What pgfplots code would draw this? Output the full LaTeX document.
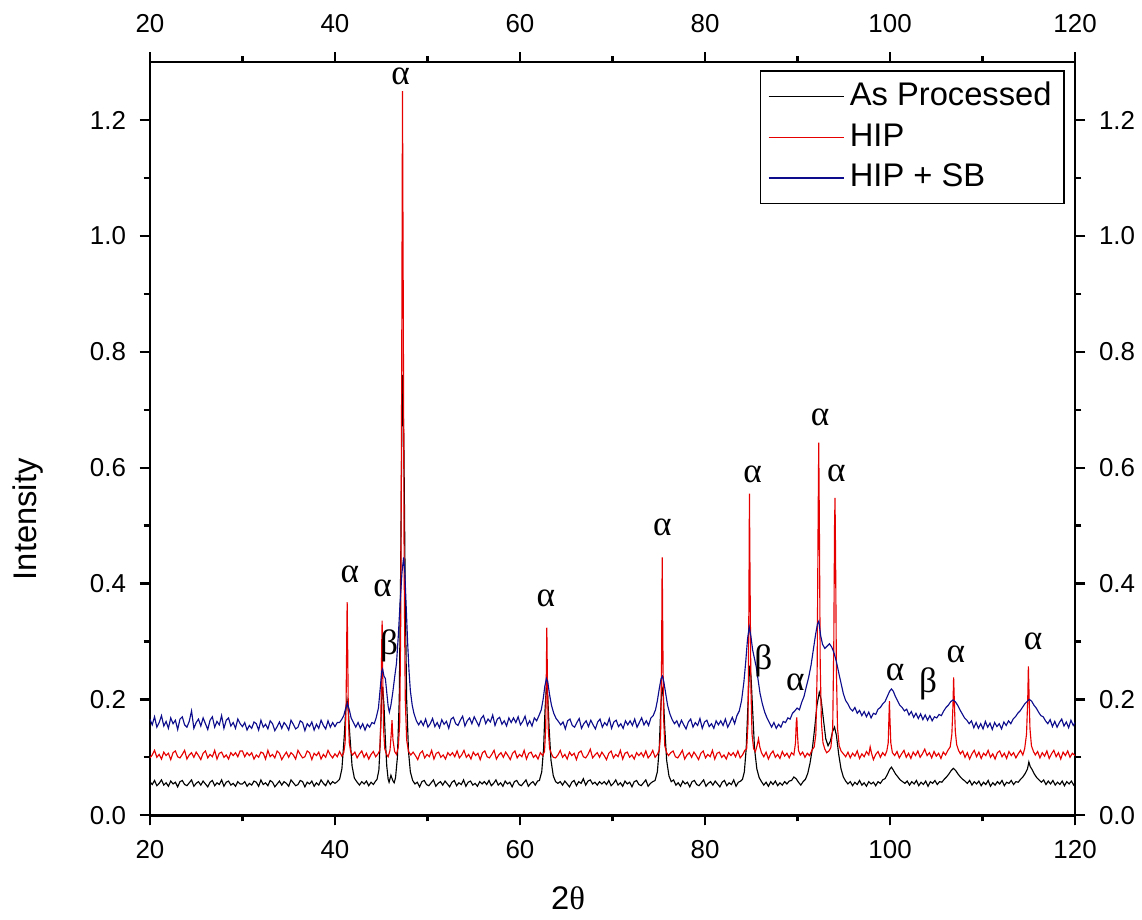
\documentclass[border=0pt]{standalone}
\usepackage{pgfplots}
\pgfplotsset{compat=1.18}
\usepackage{fontspec}
\setmainfont{Liberation Sans}
\newfontfamily\grk{Liberation Serif}
\definecolor{hipred}{RGB}{230,0,0}
\definecolor{sbblue}{RGB}{12,12,140}

\begin{document}
\begin{tikzpicture}
\pgfplotsset{
  frame/.style={
    scale only axis, width=367.8pt, height=299.4pt,
    xmin=20, xmax=120, ymin=0, ymax=1.3,
    xtick={20,40,60,80,100,120},
    ytick={0,0.2,0.4,0.6,0.8,1.0,1.2},
    minor x tick num=1, minor y tick num=1,
    tick align=outside, major tick length=4pt, minor tick length=2.4pt,
    axis line style={line width=1pt},
    every tick/.style={line width=0.9pt, black},
    tick label style={font=\fontsize{10.3}{12}\selectfont},
    /pgf/number format/assume math mode=true,
    yticklabel style={/pgf/number format/fixed, /pgf/number format/fixed zerofill, /pgf/number format/precision=1},
  }
}
% top and right tick labels
\begin{axis}[frame, xticklabel pos=right, yticklabel pos=right,
  xticklabel style={yshift=4pt}, yticklabel style={xshift=2pt}]
\end{axis}

\begin{axis}[frame,
  xticklabel style={yshift=-2.5pt}, yticklabel style={xshift=-2pt},
  xlabel={2{\grk θ}}, ylabel={Intensity},
  every axis x label/.style={at={(axis description cs:0.452,-0.110)}, anchor=center, font=\fontsize{13}{15}\selectfont},
  every axis y label/.style={at={(axis description cs:-0.1319,0.393)}, rotate=90, anchor=center, font=\fontsize{13}{15}\selectfont},
  legend style={at={(rel axis cs:0.989,0.989)}, anchor=north east, draw=black, line width=0.6pt,
    font=\fontsize{13}{15}\selectfont, row sep=0pt,
    nodes={text height=10pt, text depth=3pt, inner ysep=1.6pt}},
  legend cell align=left,
  legend image code/.code={\draw[#1, line width=0.5pt] (0pt,0pt) -- (30pt,0pt);},
]
\addplot[color=black, draw=black, line width=0.45pt] table {
x y
20.00 .058
20.25 .053
20.50 .060
20.75 .051
21.00 .055
21.25 .061
21.50 .052
21.75 .056
22.00 .050
22.25 .059
22.50 .054
22.75 .057
23.00 .049
23.25 .058
23.50 .060
23.75 .053
24.00 .051
24.25 .056
24.50 .061
24.75 .050
25.00 .055
25.25 .058
25.50 .052
25.75 .059
26.00 .054
26.25 .049
26.50 .057
26.75 .060
27.00 .051
27.25 .056
27.50 .053
27.75 .061
28.00 .050
28.25 .057
28.50 .059
28.75 .052
29.00 .055
29.25 .050
29.50 .058
29.75 .054
30.00 .054
30.25 .058
30.50 .050
30.75 .055
31.00 .052
31.25 .059
31.50 .057
31.75 .050
32.00 .061
32.25 .053
32.50 .056
32.75 .051
33.00 .060
33.25 .057
33.50 .049
33.75 .054
34.00 .059
34.25 .052
34.50 .058
34.75 .055
35.00 .050
35.25 .061
35.50 .056
35.75 .051
36.00 .053
36.25 .060
36.50 .058
36.75 .049
37.00 .057
37.25 .054
37.50 .059
37.75 .050
38.00 .056
38.25 .052
38.50 .061
38.75 .055
39.00 .051
39.25 .060
39.50 .053
39.75 .058
40.00 .055
40.25 .058
40.50 .062
40.75 .080
41.00 .135
41.15 .178
41.30 .200
41.45 .180
41.60 .140
41.85 .085
42.10 .064
42.40 .057
42.65 .052
42.90 .058
43.15 .054
43.40 .059
43.65 .051
43.90 .057
44.15 .053
44.35 .058
44.55 .062
44.75 .078
44.90 .130
45.05 .200
45.15 .222
45.30 .190
45.45 .130
45.60 .085
45.75 .062
45.85 .057
46.05 .069
46.25 .060
46.40 .056
46.55 .065
46.75 .100
46.95 .200
47.10 .420
47.22 .650
47.32 .760
47.45 .640
47.60 .380
47.75 .200
47.95 .110
48.15 .075
48.40 .060
48.65 .054
48.90 .057
49.15 .049
49.40 .058
49.65 .060
49.90 .053
50.15 .051
50.40 .056
50.65 .061
50.90 .050
51.15 .055
51.40 .058
51.65 .052
51.90 .059
52.15 .054
52.40 .049
52.65 .057
52.90 .060
53.15 .051
53.40 .056
53.65 .053
53.90 .061
54.15 .050
54.40 .057
54.65 .059
54.90 .052
55.15 .055
55.40 .050
55.65 .058
55.90 .054
56.15 .058
56.40 .053
56.65 .060
56.90 .051
57.15 .055
57.40 .061
57.65 .052
57.90 .056
58.15 .050
58.40 .059
58.65 .054
58.90 .057
59.15 .049
59.40 .058
59.65 .060
59.90 .053
60.15 .051
60.40 .056
60.65 .061
60.90 .050
61.15 .055
61.40 .058
61.65 .052
61.90 .059
62.10 .060
62.35 .075
62.55 .115
62.70 .180
62.85 .222
63.00 .205
63.15 .150
63.35 .095
63.60 .068
63.85 .058
64.10 .055
64.35 .058
64.60 .052
64.85 .059
65.10 .054
65.35 .049
65.60 .057
65.85 .060
66.10 .051
66.35 .058
66.60 .055
66.85 .063
67.10 .052
67.35 .059
67.60 .061
67.85 .054
68.10 .057
68.35 .052
68.60 .058
68.85 .054
69.10 .058
69.35 .053
69.60 .060
69.85 .051
70.10 .055
70.35 .061
70.60 .052
70.85 .056
71.10 .050
71.35 .059
71.60 .054
71.85 .057
72.10 .049
72.35 .058
72.60 .060
72.85 .053
73.10 .051
73.35 .056
73.60 .061
73.85 .050
74.10 .055
74.35 .058
74.60 .060
74.85 .075
75.05 .115
75.20 .180
75.35 .222
75.50 .205
75.65 .150
75.85 .095
76.10 .068
76.35 .058
76.60 .061
76.85 .052
77.10 .056
77.35 .050
77.60 .059
77.85 .054
78.10 .057
78.35 .049
78.60 .058
78.85 .060
79.10 .053
79.35 .051
79.60 .056
79.85 .061
80.10 .050
80.35 .055
80.60 .058
80.85 .052
81.10 .059
81.35 .054
81.60 .049
81.85 .057
82.10 .060
82.35 .051
82.60 .056
82.85 .053
83.10 .061
83.35 .050
83.60 .057
83.85 .059
84.05 .062
84.25 .075
84.45 .115
84.65 .195
84.82 .258
84.97 .240
85.15 .180
85.35 .115
85.60 .080
85.85 .065
86.10 .058
86.35 .052
86.60 .057
86.85 .050
87.10 .058
87.35 .053
87.60 .059
87.85 .051
88.10 .056
88.35 .052
88.60 .058
88.85 .054
89.10 .059
89.35 .060
89.60 .066
89.85 .063
90.10 .057
90.35 .052
90.60 .058
90.85 .062
91.10 .072
91.35 .090
91.60 .115
91.85 .150
92.10 .190
92.35 .212
92.55 .200
92.80 .165
93.05 .132
93.30 .120
93.55 .128
93.80 .145
94.00 .152
94.20 .138
94.45 .105
94.70 .080
94.95 .066
95.20 .059
95.45 .054
95.70 .058
95.95 .051
96.20 .057
96.45 .053
96.70 .060
96.95 .052
97.20 .056
97.45 .050
97.70 .058
97.95 .054
98.20 .057
98.45 .051
98.70 .058
98.95 .055
99.20 .061
99.45 .063
99.70 .070
99.95 .079
100.15 .083
100.35 .078
100.60 .071
100.85 .066
101.10 .061
101.35 .058
101.60 .055
101.85 .059
102.10 .052
102.35 .058
102.60 .054
102.85 .060
103.10 .051
103.35 .057
103.60 .053
103.85 .059
104.10 .050
104.35 .058
104.60 .055
104.85 .060
105.10 .053
105.35 .058
105.60 .057
105.85 .062
106.10 .066
106.35 .071
106.60 .077
106.85 .081
107.10 .077
107.35 .071
107.60 .066
107.85 .062
108.10 .059
108.35 .055
108.60 .060
108.85 .052
109.10 .058
109.35 .054
109.60 .059
109.85 .051
110.10 .057
110.35 .053
110.60 .060
110.85 .050
111.10 .056
111.35 .052
111.60 .058
111.85 .054
112.10 .060
112.35 .051
112.60 .057
112.85 .055
113.10 .060
113.35 .053
113.60 .058
113.85 .057
114.10 .062
114.35 .066
114.60 .072
114.85 .080
115.00 .092
115.15 .084
115.35 .079
115.60 .071
115.85 .065
116.10 .061
116.35 .057
116.60 .061
116.85 .053
117.10 .059
117.35 .054
117.60 .060
117.85 .052
118.10 .057
118.35 .053
118.60 .059
118.85 .051
119.10 .058
119.35 .054
119.60 .059
119.85 .052
120.00 .056
};
\addplot[color=hipred, draw=hipred, line width=0.45pt] table {
x y
20.00 .099
20.25 .104
20.50 .112
20.75 .100
21.00 .105
21.25 .097
21.50 .109
21.75 .103
22.00 .107
22.25 .096
22.50 .108
22.75 .111
23.00 .101
23.25 .099
23.50 .105
23.75 .112
24.00 .097
24.25 .104
24.50 .108
24.75 .100
25.00 .109
25.25 .103
25.50 .096
25.75 .107
26.00 .111
26.25 .099
26.50 .105
26.75 .101
27.00 .112
27.25 .097
27.50 .107
27.75 .109
28.00 .100
28.25 .104
28.50 .097
28.75 .108
29.00 .103
29.25 .108
29.50 .101
29.75 .111
30.00 .111
30.25 .101
30.50 .108
30.75 .103
31.00 .108
31.25 .097
31.50 .104
31.75 .100
32.00 .109
32.25 .107
32.50 .097
32.75 .112
33.00 .101
33.25 .105
33.50 .099
33.75 .111
34.00 .107
34.25 .096
34.50 .103
34.75 .109
35.00 .100
35.25 .108
35.50 .104
35.75 .097
36.00 .112
36.25 .105
36.50 .099
36.75 .101
37.00 .111
37.25 .108
37.50 .096
37.75 .107
38.00 .103
38.25 .109
38.50 .097
38.75 .105
39.00 .100
39.25 .112
39.50 .104
39.75 .099
40.00 .106
40.25 .101
40.50 .110
40.75 .102
40.95 .108
41.10 .125
41.20 .190
41.27 .300
41.32 .368
41.38 .280
41.45 .170
41.55 .125
41.70 .110
41.90 .104
42.15 .109
42.40 .099
42.65 .106
42.90 .111
43.15 .100
43.40 .107
43.65 .097
43.90 .105
44.15 .110
44.40 .101
44.65 .106
44.85 .112
44.97 .170
45.05 .290
45.10 .336
45.16 .250
45.25 .150
45.38 .115
45.55 .106
45.75 .101
45.95 .112
46.08 .140
46.17 .164
46.27 .130
46.45 .110
46.65 .105
46.85 .118
47.00 .160
47.12 .350
47.22 .800
47.30 1.250
47.38 .900
47.48 .420
47.60 .200
47.75 .130
47.95 .110
48.20 .104
48.45 .109
48.70 .103
48.95 .096
49.20 .107
49.45 .111
49.70 .099
49.95 .105
50.20 .101
50.45 .112
50.70 .097
50.95 .107
51.20 .109
51.45 .100
51.70 .104
51.95 .097
52.20 .108
52.45 .103
52.70 .108
52.95 .101
53.20 .111
53.45 .099
53.70 .104
53.95 .112
54.20 .100
54.45 .105
54.70 .097
54.95 .109
55.20 .103
55.45 .107
55.70 .096
55.95 .108
56.20 .111
56.45 .101
56.70 .099
56.95 .105
57.20 .112
57.45 .097
57.70 .104
57.95 .108
58.20 .100
58.45 .109
58.70 .103
58.95 .096
59.20 .107
59.45 .111
59.70 .099
59.95 .105
60.20 .101
60.45 .112
60.70 .097
60.95 .107
61.20 .109
61.45 .100
61.70 .104
61.95 .097
62.20 .108
62.45 .103
62.65 .110
62.78 .150
62.85 .250
62.90 .324
62.96 .240
63.05 .150
63.20 .115
63.40 .106
63.60 .100
63.85 .099
64.10 .104
64.35 .112
64.60 .100
64.85 .105
65.10 .097
65.35 .109
65.60 .103
65.85 .107
66.10 .096
66.35 .108
66.60 .111
66.85 .101
67.10 .099
67.35 .105
67.60 .114
67.85 .099
68.10 .104
68.35 .108
68.60 .100
68.85 .109
69.10 .103
69.35 .096
69.60 .107
69.85 .111
70.10 .099
70.35 .105
70.60 .101
70.85 .112
71.10 .097
71.35 .107
71.60 .109
71.85 .100
72.10 .104
72.35 .097
72.60 .108
72.85 .103
73.10 .108
73.35 .101
73.60 .111
73.85 .099
74.10 .104
74.35 .112
74.60 .100
74.85 .105
75.05 .112
75.20 .140
75.30 .260
75.37 .445
75.44 .300
75.52 .170
75.65 .120
75.85 .108
76.05 .103
76.30 .108
76.55 .111
76.80 .101
77.05 .099
77.30 .105
77.55 .112
77.80 .097
78.05 .104
78.30 .108
78.55 .100
78.80 .109
79.05 .103
79.30 .096
79.55 .107
79.80 .111
80.05 .099
80.30 .105
80.55 .101
80.80 .112
81.05 .097
81.30 .107
81.55 .109
81.80 .100
82.05 .104
82.30 .097
82.55 .108
82.80 .103
83.05 .108
83.30 .101
83.55 .111
83.80 .099
84.05 .104
84.30 .112
84.50 .115
84.65 .160
84.74 .360
84.80 .555
84.87 .400
84.96 .220
85.08 .140
85.25 .115
85.45 .110
85.65 .122
85.78 .132
85.92 .118
86.10 .108
86.35 .101
86.60 .109
86.85 .097
87.10 .106
87.35 .111
87.60 .100
87.85 .105
88.10 .098
88.35 .110
88.60 .102
88.85 .107
89.10 .099
89.35 .108
89.60 .104
89.78 .125
89.86 .160
89.92 .169
89.99 .140
90.10 .112
90.30 .104
90.55 .109
90.80 .100
91.05 .107
91.30 .103
91.55 .112
91.80 .118
91.98 .140
92.12 .250
92.22 .500
92.29 .643
92.36 .500
92.45 .260
92.58 .160
92.75 .125
92.95 .114
93.15 .108
93.40 .111
93.60 .117
93.80 .150
93.92 .300
94.00 .500
94.05 .548
94.11 .450
94.20 .250
94.32 .150
94.50 .120
94.70 .111
94.95 .106
95.20 .101
95.45 .109
95.70 .099
95.95 .107
96.20 .102
96.45 .111
96.70 .098
96.95 .106
97.20 .101
97.45 .110
97.70 .104
97.85 .118
98.00 .107
98.20 .096
98.45 .105
98.70 .110
98.95 .100
99.20 .108
99.45 .103
99.65 .111
99.80 .125
99.88 .170
99.93 .197
99.99 .165
100.08 .125
100.25 .108
100.50 .103
100.75 .110
101.00 .099
101.25 .106
101.50 .112
101.75 .100
102.00 .107
102.25 .098
102.50 .109
102.75 .103
103.00 .111
103.25 .100
103.50 .106
103.75 .114
104.00 .103
104.25 .108
104.50 .099
104.75 .110
105.00 .102
105.25 .107
105.50 .098
105.75 .109
106.00 .104
106.25 .112
106.50 .118
106.68 .140
106.80 .190
106.87 .238
106.94 .200
107.05 .145
107.20 .122
107.40 .112
107.60 .106
107.85 .111
108.10 .100
108.35 .108
108.60 .097
108.85 .106
109.10 .112
109.35 .101
109.60 .109
109.85 .098
110.10 .107
110.35 .103
110.60 .112
110.85 .100
111.10 .106
111.35 .097
111.60 .108
111.85 .111
112.10 .101
112.35 .107
112.60 .098
112.85 .110
113.10 .103
113.35 .108
113.60 .099
113.85 .106
114.10 .112
114.35 .104
114.55 .115
114.75 .140
114.88 .200
114.95 .257
115.02 .210
115.12 .150
115.28 .120
115.50 .110
115.70 .104
115.95 .110
116.20 .099
116.45 .108
116.70 .102
116.95 .111
117.20 .098
117.45 .106
117.70 .112
117.95 .101
118.20 .108
118.45 .097
118.70 .109
118.95 .103
119.20 .111
119.45 .100
119.70 .107
120.00 .103
};
\addplot[color=sbblue, draw=sbblue, line width=0.45pt] table {
x y
20.00 .166
20.25 .156
20.50 .170
20.75 .152
21.00 .160
21.25 .172
21.50 .154
21.75 .162
22.00 .150
22.25 .168
22.50 .158
22.75 .164
23.00 .148
23.25 .166
23.50 .170
23.75 .156
24.00 .152
24.25 .162
24.50 .180
24.75 .150
25.00 .160
25.25 .166
25.50 .154
25.75 .168
26.00 .158
26.25 .148
26.50 .164
26.75 .170
27.00 .152
27.25 .162
27.50 .156
27.75 .172
28.00 .150
28.25 .164
28.50 .168
28.75 .154
29.00 .160
29.25 .150
29.50 .166
29.75 .158
30.00 .153
30.25 .160
30.50 .147
30.75 .155
31.00 .150
31.25 .161
31.50 .158
31.75 .147
32.00 .164
32.25 .152
32.50 .157
32.75 .149
33.00 .163
33.25 .158
33.50 .146
33.75 .153
34.00 .161
34.25 .150
34.50 .160
34.75 .155
35.00 .147
35.25 .164
35.50 .157
35.75 .149
36.00 .152
36.25 .163
36.50 .160
36.75 .146
37.00 .158
37.25 .153
37.50 .161
37.75 .147
38.00 .157
38.25 .150
38.50 .164
38.75 .155
39.00 .149
39.25 .163
39.50 .152
39.75 .160
40.00 .153
40.25 .160
40.50 .160
40.75 .166
40.95 .172
41.15 .184
41.35 .193
41.55 .182
41.75 .168
42.00 .160
42.25 .152
42.50 .160
42.75 .150
43.00 .158
43.25 .147
43.50 .157
43.75 .152
44.00 .160
44.25 .158
44.45 .168
44.70 .185
44.90 .220
45.05 .248
45.15 .252
45.30 .240
45.45 .236
45.60 .212
45.75 .188
45.88 .178
46.05 .190
46.25 .212
46.45 .238
46.65 .262
46.85 .310
47.05 .370
47.25 .420
47.42 .445
47.55 .420
47.70 .360
47.85 .300
48.00 .250
48.15 .215
48.35 .190
48.55 .175
48.80 .163
49.05 .156
49.30 .163
49.55 .155
49.80 .166
50.05 .152
50.30 .158
50.55 .167
50.80 .153
51.05 .160
51.30 .151
51.55 .165
51.80 .157
52.05 .162
52.30 .150
52.55 .166
52.80 .169
53.05 .158
53.30 .155
53.55 .164
53.80 .171
54.05 .154
54.30 .163
54.55 .168
54.80 .158
55.05 .170
55.30 .162
55.55 .154
55.80 .167
56.05 .172
56.30 .158
56.55 .166
56.80 .161
57.05 .173
57.30 .155
57.55 .166
57.80 .169
58.05 .157
58.30 .163
58.55 .154
58.80 .168
59.05 .160
59.30 .168
59.55 .160
59.80 .170
60.05 .156
60.30 .162
60.55 .171
60.80 .155
61.05 .163
61.30 .154
61.55 .168
61.80 .163
62.05 .172
62.30 .182
62.50 .200
62.68 .222
62.85 .236
63.00 .230
63.20 .208
63.40 .190
63.65 .176
63.90 .167
64.15 .162
64.40 .156
64.65 .161
64.90 .149
65.15 .163
65.40 .166
65.65 .155
65.90 .152
66.15 .160
66.40 .167
66.65 .150
66.90 .158
67.15 .163
67.40 .153
67.65 .164
67.90 .156
68.15 .149
68.40 .161
68.65 .166
68.90 .152
69.15 .160
69.40 .155
69.65 .167
69.90 .150
70.15 .161
70.40 .164
70.65 .153
70.90 .158
71.15 .150
71.40 .163
71.65 .156
71.90 .163
72.15 .155
72.40 .166
72.65 .152
72.90 .160
73.15 .168
73.40 .156
73.65 .163
73.90 .155
74.15 .168
74.40 .172
74.65 .182
74.85 .198
75.05 .218
75.25 .236
75.40 .240
75.55 .230
75.75 .210
75.95 .190
76.20 .175
76.45 .165
76.70 .158
76.95 .163
77.20 .153
77.45 .164
77.70 .156
77.95 .149
78.20 .161
78.45 .166
78.70 .152
78.95 .160
79.20 .155
79.45 .167
79.70 .150
79.95 .161
80.20 .164
80.45 .153
80.70 .158
80.95 .150
81.20 .163
81.45 .156
81.70 .163
81.95 .155
82.20 .166
82.45 .152
82.70 .160
82.95 .169
83.20 .158
83.45 .172
83.70 .180
83.95 .198
84.20 .230
84.40 .265
84.60 .305
84.78 .325
84.95 .310
85.15 .285
85.35 .270
85.55 .255
85.75 .232
85.95 .210
86.20 .192
86.45 .178
86.70 .168
86.95 .160
87.20 .152
87.45 .160
87.70 .150
87.95 .157
88.20 .152
88.45 .162
88.70 .160
88.95 .168
89.20 .166
89.45 .176
89.70 .180
89.95 .185
90.20 .182
90.45 .195
90.70 .205
90.95 .222
91.20 .238
91.45 .258
91.70 .285
91.95 .312
92.15 .330
92.30 .335
92.50 .310
92.70 .295
92.95 .288
93.20 .292
93.45 .296
93.70 .290
93.95 .280
94.20 .265
94.45 .246
94.70 .228
94.95 .210
95.20 .198
95.45 .192
95.70 .184
95.95 .180
96.20 .186
96.45 .176
96.70 .181
96.95 .172
97.20 .179
97.45 .170
97.70 .178
97.95 .168
98.20 .176
98.45 .174
98.70 .183
98.95 .186
99.20 .192
99.45 .196
99.70 .205
99.95 .214
100.15 .218
100.35 .214
100.55 .206
100.80 .198
101.05 .190
101.30 .186
101.55 .180
101.80 .183
102.05 .173
102.30 .179
102.55 .169
102.80 .176
103.05 .167
103.30 .175
103.55 .165
103.80 .173
104.05 .164
104.30 .172
104.55 .163
104.80 .170
105.05 .168
105.30 .174
105.55 .172
105.80 .180
106.05 .186
106.30 .190
106.55 .196
106.80 .199
107.05 .196
107.30 .190
107.55 .182
107.80 .175
108.05 .168
108.30 .164
108.55 .158
108.80 .163
109.05 .151
109.30 .160
109.55 .150
109.80 .158
110.05 .149
110.30 .162
110.55 .152
110.80 .159
111.05 .148
111.30 .160
111.55 .153
111.80 .158
112.05 .149
112.30 .161
112.55 .155
112.80 .163
113.05 .158
113.30 .166
113.55 .170
113.80 .176
114.05 .180
114.30 .186
114.55 .192
114.80 .196
115.05 .200
115.30 .197
115.55 .190
115.80 .185
116.05 .178
116.30 .172
116.55 .170
116.80 .163
117.05 .158
117.30 .165
117.55 .153
117.80 .162
118.05 .152
118.30 .160
118.55 .166
118.80 .154
119.05 .161
119.30 .151
119.55 .164
119.80 .155
120.00 .160
};
\legend{As Processed, HIP, HIP + SB}
% phase labels
\begin{scope}[every node/.style={font=\grk\fontsize{14}{16}\selectfont}]
\node at (axis cs:41.6,0.416) {α};
\node at (axis cs:45.15,0.392) {α};
\node at (axis cs:45.85,0.292) {β};
\node at (axis cs:47.1,1.276) {α};
\node at (axis cs:62.8,0.374) {α};
\node at (axis cs:75.4,0.497) {α};
\node at (axis cs:85.15,0.588) {α};
\node at (axis cs:86.3,0.267) {β};
\node at (axis cs:89.75,0.229) {α};
\node at (axis cs:92.45,0.687) {α};
\node at (axis cs:94.2,0.590) {α};
\node at (axis cs:100.55,0.246) {α};
\node at (axis cs:104.1,0.227) {β};
\node at (axis cs:107.1,0.278) {α};
\node at (axis cs:115.45,0.300) {α};
\end{scope}
\end{axis}
\pgfresetboundingbox
\path (-59.6pt,-41.4pt) rectangle (394.4pt,324.1pt);
\end{tikzpicture}
\end{document}
